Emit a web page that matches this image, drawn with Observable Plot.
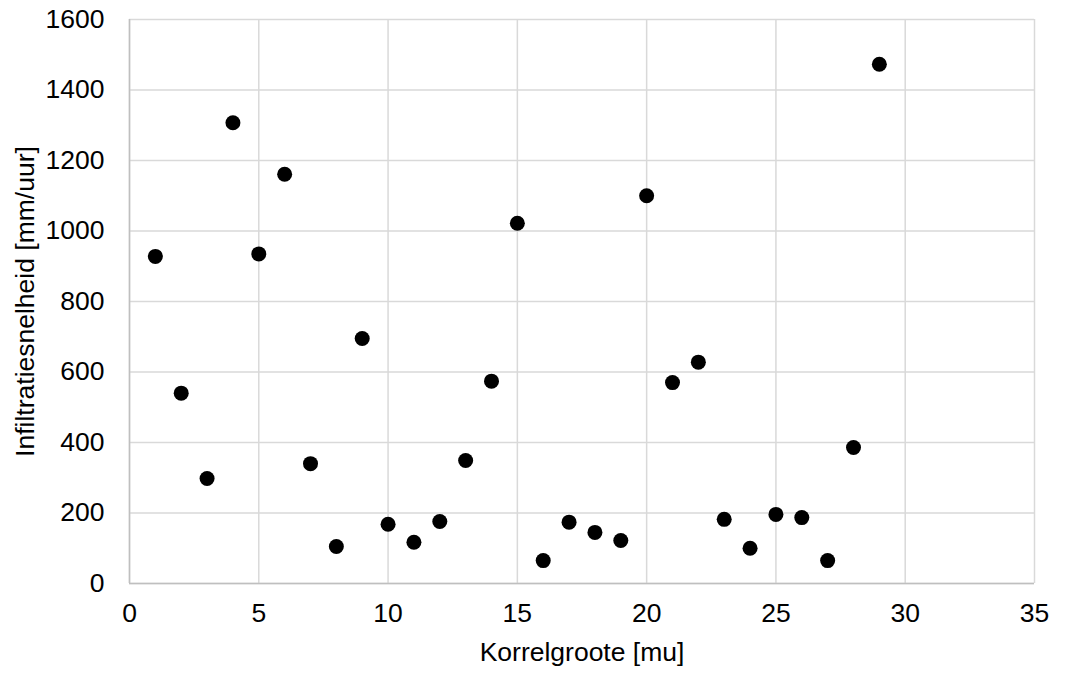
<!DOCTYPE html>
<html>
<head>
<meta charset="utf-8">
<script src="https://cdn.jsdelivr.net/npm/d3@7"></script>
<script src="https://cdn.jsdelivr.net/npm/@observablehq/plot@0.6"></script>
<style>
  html, body { margin: 0; padding: 0; background: #fff; }
  #chart svg { display: block; }
</style>
</head>
<body>
<div id="chart"></div>
<script>
// Grain size (x) versus infiltration rate (y), one measurement per sample
const korrelgroote = [1, 2, 3, 4, 5, 6, 7, 8, 9, 10, 11, 12, 13, 14, 15, 16, 17, 18, 19, 20, 21, 22, 23, 24, 25, 26, 27, 28, 29];
const infiltratie = [928, 540, 298, 1307, 935, 1161, 340, 105, 695, 168, 117, 176, 349, 574, 1022, 65, 174, 145, 122, 1100, 570, 628, 182, 100, 196, 187, 65, 386, 1473];

const xTicks = [0, 5, 10, 15, 20, 25, 30, 35];
const yTicks = [0, 200, 400, 600, 800, 1000, 1200, 1400, 1600];

const data = korrelgroote.map((k, i) => ({k, v: infiltratie[i]}));

const font = "'Liberation Sans', Arial, sans-serif";
const fs = 26.5;

const chart = Plot.plot({
  width: 1065,
  height: 675,
  marginLeft: 129,
  marginRight: 31,
  marginTop: 19,
  marginBottom: 92,
  style: {fontFamily: font, fontSize: `${fs}px`, color: "#000", background: "#fff"},
  x: {domain: [0, 35]},
  y: {domain: [0, 1600]},
  marks: [
    Plot.gridX(xTicks, {stroke: "#d9d9d9", strokeOpacity: 1, strokeWidth: 1.5}),
    Plot.gridY(yTicks, {stroke: "#d9d9d9", strokeOpacity: 1, strokeWidth: 1.5}),
    Plot.ruleX([0], {stroke: "#bfbfbf", strokeWidth: 1.5}),
    Plot.ruleY([0], {stroke: "#bfbfbf", strokeWidth: 1.5}),
    Plot.axisX(xTicks, {
      tickSize: 0, tickPadding: 20, fontSize: fs, tickFormat: d => String(d),
      label: "Korrelgroote [mu]", labelAnchor: "center", labelArrow: "none", labelOffset: 77
    }),
    Plot.axisY(yTicks, {
      tickSize: 0, tickPadding: 25, fontSize: fs, tickFormat: d => String(d),
      label: "Infiltratiesnelheid [mm/uur]", labelAnchor: "center", labelArrow: "none", labelOffset: 114
    }),
    Plot.dot(data, {x: "k", y: "v", r: 7.5, fill: "#000", stroke: "none"})
  ]
});

document.getElementById("chart").append(chart);
</script>
</body>
</html>
